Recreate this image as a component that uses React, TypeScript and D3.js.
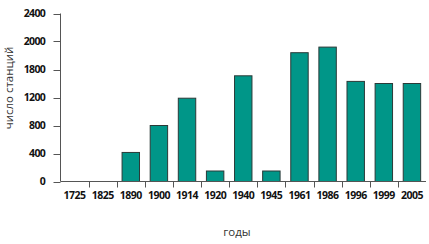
import React from "react";
import * as d3 from "d3";

const years = ["1725", "1825", "1890", "1900", "1914", "1920", "1940", "1945", "1961", "1986", "1996", "1999", "2005"];
const stations = [0, 0, 415, 800, 1190, 150, 1510, 150, 1840, 1920, 1430, 1400, 1400];
const yTickValues = [0, 400, 800, 1200, 1600, 2000, 2400];
const yTickLabels = ["0", "400", "800", "1200", "1800", "2000", "2400"];
const xTitle = "годы";
const yTitle = "число станций";

const W = 429;
const H = 244;
const left = 60.5;
const right = 426;
const top = 13.5;
const bottom = 181.5;

export default function App() {
  const x = d3.scaleBand<string>().domain(years).range([left, right]).paddingInner(0.38).paddingOuter(0.19);
  const y = d3.scaleLinear().domain([0, 2400]).range([bottom, top]);
  const step = x.step();
  const x0 = x(years[0])! - x.paddingOuter() * step;
  const font = "'Open Sans', 'Liberation Sans', sans-serif";

  return (
    <svg width={W} height={H} style={{ position: "absolute", left: 0, top: 0, background: "#fff" }}>
      {years.map((yr, i) =>
        stations[i] > 0 ? (
          <rect
            key={yr}
            x={x(yr)!}
            y={y(stations[i])}
            width={x.bandwidth()}
            height={bottom - y(stations[i])}
            fill="#009688"
            stroke="#2b3a38"
            strokeWidth={1}
          />
        ) : null
      )}
      <line x1={left} x2={left} y1={top} y2={bottom} stroke="#555" strokeWidth={1} />
      {yTickValues.map((v, i) => (
        <g key={v}>
          <line x1={left - 7} x2={left} y1={Math.round(y(v)) + 0.5} y2={Math.round(y(v)) + 0.5} stroke="#555" />
          <text
            x={45}
            y={y(v)}
            dy="0.35em"
            textAnchor="end"
            fontFamily={font}
            fontWeight={700}
            fontSize={10.5}
            fill="#111"
            letterSpacing={-0.7}
          >
            {yTickLabels[i]}
          </text>
        </g>
      ))}
      <line x1={left} x2={right} y1={bottom} y2={bottom} stroke="#555" strokeWidth={1} />
      {years.slice(1).map((yr, i) => {
        const tx = Math.round(x0 + (i + 1) * step) + 0.5;
        return <line key={yr} x1={tx} x2={tx} y1={bottom} y2={bottom + 6} stroke="#555" />;
      })}
      {years.map((yr) => (
        <text
          key={yr}
          x={x(yr)! + x.bandwidth() / 2}
          y={199}
          textAnchor="middle"
          fontFamily={font}
          fontWeight={700}
          fontSize={10.5}
          fill="#111"
          letterSpacing={-0.5}
        >
          {yr}
        </text>
      ))}
      <text x={237} y={236} textAnchor="middle" fontFamily={font} fontSize={11.5} fill="#333">
        {xTitle}
      </text>
      <text
        transform={`translate(13,88) rotate(-90)`}
        textAnchor="middle"
        fontFamily={font}
        fontSize={11.5}
        fill="#333"
      >
        {yTitle}
      </text>
    </svg>
  );
}
